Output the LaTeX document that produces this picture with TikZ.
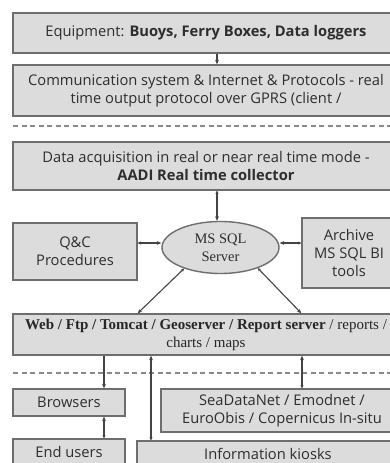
\documentclass[tikz,border=0pt]{standalone}
\usepackage{fontspec}
\setmainfont{Liberation Serif}
\setsansfont{Open Sans}
\usetikzlibrary{arrows.meta,shapes.geometric}
\definecolor{boxfill}{HTML}{DCDCDC}
\definecolor{boxline}{HTML}{6E6E6E}
\definecolor{txt}{HTML}{2E2E2E}
\definecolor{arrc}{HTML}{444444}
\definecolor{dashc}{HTML}{8A8A8A}
\tikzset{
  box/.style={draw=boxline, fill=boxfill, line width=1.4pt, inner sep=0pt, align=center,
    font=\sffamily\fontsize{14.7}{18}\selectfont, text=txt},
  sbox/.style={box, font=\rmfamily\fontsize{15}{18}\selectfont, text=black!85},
  dbcyl/.style={box, ellipse, font=\rmfamily\fontsize{14.5}{18}\selectfont, text=txt},
  arr/.style={draw=arrc, line width=1.1pt, -{Stealth[length=4.5pt,width=3.8pt]}},
  darr/.style={draw=arrc, line width=1.1pt, {Stealth[length=3pt,width=3.2pt]}-{Stealth[length=4.5pt,width=3.8pt]}},
  sep/.style={draw=dashc, line width=1.2pt, dash pattern=on 5pt off 3.5pt}
}
\begin{document}
\begin{tikzpicture}[x=1pt,y=-1pt]
\clip (0,0) rectangle (390,463);
\fill[white] (0,0) rectangle (390,463);
% nodes
\node[box, minimum width=386pt, minimum height=40pt] (b1) at (206,33)
  {Equipment: \textbf{Buoys, Ferry Boxes, Data loggers}};
\node[box, minimum width=386pt, minimum height=51pt] (b2) at (206,90.5)
  {Communication system \& Internet \& Protocols - real\\time output protocol over GPRS (client /};
\node[box, minimum width=386pt, minimum height=48pt] (b3) at (206,166)
  {Data acquisition in real or near real time mode -\\\textbf{AADI Real time collector}};
\node[box, minimum width=124pt, minimum height=57pt] (qc) at (75,251.5)
  {Q\&C\\Procedures};
\node[dbcyl, minimum width=117pt, minimum height=52pt] (ms) at (220.5,247.5)
  {MS SQL\\Server};
\node[box, minimum width=94pt, minimum height=70pt] (arch) at (349,253)
  {Archive\\MS SQL BI\\tools};
\node[sbox, minimum width=386pt, minimum height=41pt] (web) at (206,334.5)
  {\textbf{Web / Ftp / Tomcat / Geoserver / Report server} / reports /\\charts / maps};
\node[box, minimum width=112pt, minimum height=27pt] (brow) at (69,402.5)
  {Browsers};
\node[box, minimum width=242pt, minimum height=43pt] (sdn) at (282,410.5)
  {SeaDataNet / Emodnet /\\EuroObis / Copernicus In-situ};
\node[box, minimum width=112pt, minimum height=26pt] (eu) at (69,452)
  {End users};
\node[box, minimum width=262pt, minimum height=26pt] (kio) at (268,454)
  {Information kiosks};
% helper coordinates
\coordinate (ax) at (217,0);
\coordinate (hy) at (0,243);
\coordinate (bx) at (104,0);
\coordinate (lx) at (151,0);
\coordinate (sx) at (302,0);
\coordinate (dl1a) at (13,126);
\coordinate (dl1b) at (390,126);
\coordinate (dl2a) at (13,373);
\coordinate (dl2b) at (390,373);
% separators
\draw[sep] (dl1a) -- (dl1b);
\draw[sep] (dl2a) -- (dl2b);
% connectors
\draw[arr] (b1.south -| ax) -- (b2.north -| ax);
\draw[darr] (b3.south -| ax) -- (ms.north -| ax);
\draw[darr] (qc.east |- hy) -- (ms.west |- hy);
\draw[darr] (arch.west |- hy) -- (ms.east |- hy);
\draw[darr] (ms.210) -- (web.north -| qc.east);
\draw[darr] (ms.331) -- (web.north -| arch.west);
\draw[arr] (web.south -| bx) -- (brow.north -| bx);
\draw[darr] (eu.north -| bx) -- (brow.south -| bx);
\draw[darr] (kio.north -| lx) -- (web.south -| lx);
\draw[darr] (sdn.north -| sx) -- (web.south -| sx);
\end{tikzpicture}
\end{document}
